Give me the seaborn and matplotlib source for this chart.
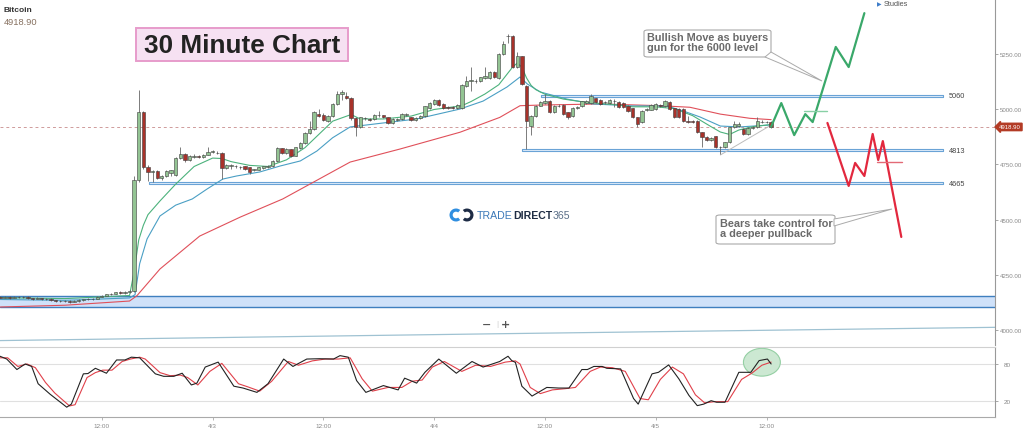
import numpy as np
import pandas as pd
import matplotlib
matplotlib.use("Agg")
import matplotlib.pyplot as plt
import seaborn as sns
from matplotlib.patches import Ellipse, FancyBboxPatch, Polygon, Wedge, Rectangle
from matplotlib.transforms import blended_transform_factory, IdentityTransform

W, H = 1024, 435

# 30 minute candles (Bitcoin)
opens = [4148, 4146, 4149, 4145, 4150, 4147, 4150, 4143, 4141, 4144,
         4139, 4141, 4134, 4131, 4129, 4132, 4128, 4131, 4136, 4138,
         4141, 4140, 4150, 4156, 4161, 4165, 4170, 4168, 4171, 4178,
         4680, 4985, 4738, 4714, 4721, 4687, 4696, 4712, 4700, 4778,
         4798, 4768, 4785, 4787, 4782, 4792, 4807, 4803, 4801, 4732,
         4744, 4741, 4738, 4741, 4736, 4725, 4725, 4732, 4736, 4741,
         4766, 4822, 4801, 4818, 4789, 4824, 4846, 4891, 4910, 4978,
         4975, 4945, 4968, 5023, 5068, 5060, 5050, 4958, 4917, 4960,
         4955, 4955, 4972, 4972, 4962, 4935, 4952, 4955, 4972, 4962,
         4952, 4958, 4967, 5003, 5023, 5042, 5023, 5010, 5008, 5005,
         5005, 5105, 5128, 5128, 5128, 5140, 5139, 5169, 5139, 5249,
         5329, 5332, 5189, 5238, 5105, 4925, 4970, 5015, 5027, 5038,
         4985, 5014, 5018, 4985, 4967, 5006, 5012, 5027, 5027, 5048,
         5042, 5030, 5027, 5036, 5033, 5027, 5015, 5003, 4962, 4940,
         4996, 4997, 5000, 5018, 5012, 5033, 5003, 5000, 5000, 4947,
         4944, 4947, 4895, 4872, 4860, 4876, 4827, 4827, 4849, 4917,
         4925, 4910, 4887, 4913, 4917, 4943, 4941, 4943]
closes = [4146, 4149, 4145, 4150, 4147, 4150, 4143, 4141, 4144, 4139,
          4141, 4134, 4131, 4129, 4132, 4128, 4131, 4136, 4138, 4141,
          4140, 4150, 4156, 4161, 4165, 4170, 4168, 4171, 4178, 4680,
          4985, 4738, 4714, 4720, 4687, 4696, 4720, 4724, 4778, 4795,
          4768, 4786, 4787, 4784, 4792, 4807, 4808, 4801, 4732, 4747,
          4745, 4740, 4737, 4729, 4717, 4726, 4736, 4741, 4741, 4766,
          4822, 4801, 4818, 4788, 4827, 4846, 4891, 4910, 4985, 4970,
          4950, 4970, 5022, 5068, 5078, 5050, 4958, 4917, 4962, 4958,
          4952, 4973, 4971, 4966, 4936, 4955, 4953, 4977, 4978, 4950,
          4960, 4968, 5012, 5027, 5042, 5018, 5005, 5005, 5004, 5018,
          5109, 5128, 5128, 5127, 5143, 5150, 5169, 5145, 5249, 5294,
          5331, 5189, 5238, 5113, 4945, 4970, 5015, 5033, 5038, 4985,
          5012, 5015, 4977, 4962, 5005, 5008, 5035, 5038, 5058, 5030,
          5023, 5031, 5042, 5037, 5008, 5008, 4992, 4962, 4932, 4992,
          4998, 5018, 5023, 5014, 5038, 5000, 4962, 4965, 4947, 4940,
          4941, 4895, 4872, 4860, 4870, 4827, 4828, 4849, 4917, 4932,
          4934, 4887, 4913, 4920, 4947, 4942, 4940, 4919]
highs = [4152, 4153, 4152, 4154, 4153, 4155, 4152, 4146, 4148, 4146,
         4145, 4143, 4137, 4134, 4136, 4134, 4135, 4139, 4142, 4145,
         4145, 4153, 4159, 4165, 4168, 4174, 4175, 4176, 4182, 4695,
         5085, 4990, 4745, 4725, 4724, 4700, 4724, 4726, 4782, 4827,
         4800, 4790, 4795, 4792, 4796, 4827, 4815, 4810, 4804, 4752,
         4752, 4746, 4744, 4744, 4738, 4730, 4739, 4744, 4745, 4769,
         4828, 4825, 4822, 4820, 4830, 4850, 4895, 4947, 4990, 5000,
         4980, 4975, 5026, 5083, 5085, 5075, 5055, 4962, 4966, 4966,
         4960, 4977, 4990, 4975, 4965, 4958, 4958, 4980, 4984, 4965,
         4964, 4972, 5015, 5030, 5046, 5045, 5027, 5014, 5012, 5022,
         5112, 5150, 5189, 5135, 5147, 5189, 5173, 5172, 5253, 5310,
         5340, 5335, 5260, 5242, 5110, 4975, 5020, 5036, 5068, 5042,
         5016, 5022, 5022, 4988, 5008, 5014, 5038, 5042, 5068, 5052,
         5045, 5038, 5046, 5044, 5036, 5030, 5018, 5006, 4965, 4996,
         5004, 5022, 5026, 5024, 5042, 5036, 5006, 5004, 5004, 4970,
         4950, 4950, 4898, 4876, 4875, 4880, 4834, 4852, 4920, 4945,
         4940, 4913, 4917, 4924, 4965, 4952, 4948, 4946]
lows = [4143, 4144, 4142, 4143, 4144, 4145, 4140, 4137, 4138, 4136,
        4136, 4130, 4127, 4125, 4126, 4124, 4125, 4128, 4133, 4135,
        4136, 4138, 4147, 4153, 4158, 4162, 4165, 4165, 4168, 4170,
        4670, 4730, 4674, 4668, 4682, 4680, 4692, 4698, 4698, 4772,
        4762, 4765, 4778, 4778, 4778, 4790, 4800, 4796, 4683, 4728,
        4730, 4734, 4730, 4726, 4705, 4718, 4722, 4729, 4732, 4738,
        4762, 4798, 4797, 4785, 4786, 4820, 4842, 4888, 4906, 4966,
        4945, 4940, 4964, 5020, 5040, 5045, 4950, 4879, 4912, 4952,
        4946, 4950, 4966, 4960, 4930, 4930, 4946, 4950, 4968, 4946,
        4948, 4955, 4963, 5000, 5020, 5015, 5002, 5000, 5000, 5002,
        5002, 5100, 5083, 5120, 5124, 5136, 5135, 5140, 5135, 5245,
        5300, 5185, 5185, 5108, 4819, 4882, 4965, 5012, 5024, 4980,
        4980, 5008, 4973, 4955, 4963, 5002, 5008, 5024, 5024, 5026,
        5018, 5025, 5024, 5010, 5004, 5004, 4988, 4958, 4917, 4936,
        4990, 4994, 4996, 5010, 5008, 4996, 4958, 4960, 4943, 4936,
        4936, 4890, 4827, 4855, 4856, 4822, 4796, 4823, 4846, 4913,
        4920, 4883, 4883, 4908, 4913, 4936, 4935, 4915]
last_price = 4918.90

# moving averages (hours since 4/2 00:00, price)
ema_fast_t = [1.0, 8.0, 15.0, 15.5, 16.0, 16.5, 17.0, 18.3, 20.0, 22.0,
              24.0, 25.0, 26.0, 28.0, 30.0, 32.0, 34.0, 35.5, 37.0, 39.0,
              40.0, 42.5, 45.5, 48.0, 51.0, 52.0, 53.5, 55.0, 56.5, 57.0,
              57.5, 58.0, 58.5, 59.0, 60.0, 62.0, 64.5, 67.5, 69.5, 72.0,
              74.0, 76.0, 78.0, 79.0, 80.0, 81.0, 82.5, 84.5]
ema_fast = [4146, 4142, 4156, 4264, 4408, 4474, 4522, 4584, 4660, 4740,
            4778, 4776, 4762, 4745, 4740, 4770, 4825, 4885, 4945, 4975,
            4955, 4955, 4968, 4998, 5015, 5034, 5068, 5110, 5190, 5208,
            5190, 5141, 5107, 5088, 5067, 5045, 5030, 5020, 5010, 5010,
            5002, 4970, 4920, 4896, 4885, 4905, 4920, 4930]
ema_mid_t = [1.0, 8.0, 15.0, 15.6, 16.1, 16.9, 18.3, 20.0, 21.8, 23.4,
             25.1, 26.6, 29.1, 31.3, 33.5, 35.3, 37.0, 38.9, 42.5, 46.1,
             50.8, 53.3, 55.9, 57.3, 58.1, 59.5, 62.4, 65.2, 69.5, 73.2,
             75.0, 76.8, 79.0, 81.1, 84.5]
ema_mid = [4138, 4134, 4145, 4160, 4300, 4412, 4516, 4565, 4593, 4638,
           4683, 4697, 4715, 4742, 4765, 4810, 4870, 4919, 4937, 4955,
           5000, 5036, 5100, 5145, 5113, 5077, 5045, 5023, 5014, 5014,
           4991, 4964, 4923, 4919, 4928]
ema_slow_t = [1.0, 8.0, 15.0, 15.8, 18.3, 22.6, 27.0, 31.6, 38.9, 44.3,
              50.8, 55.1, 57.3, 59.5, 66.0, 72.5, 75.7, 79.0, 82.2, 84.5]
ema_slow = [4104, 4112, 4131, 4155, 4276, 4425, 4511, 4593, 4760, 4819,
            4895, 4962, 5015, 5018, 5023, 5015, 5008, 4977, 4958, 4952]
long_ma_t = [0.97, 55.0, 108.75]
long_ma = [3952, 3983, 4012]

# support / resistance levels
levels = [5060, 4813, 4665]
level_start = [59.6, 57.5, 17.1]
level_end = 103.1
band_low, band_high = 4104, 4154
trend_t = [79.0, 84.4]
trend_p = [4792, 4925]

# projected paths
bull_t = [84.5, 85.6, 87.0, 88.2, 89.0, 91.5, 92.9, 94.6]
bull_p = [4920, 5027, 4882, 4977, 4941, 5281, 5190, 5434]
bull_mark_t, bull_mark_p = [88.1, 90.6], [4991, 4991]
bear_t = [90.6, 92.9, 93.6, 94.6, 95.5, 96.1, 96.6, 98.6]
bear_p = [4937, 4652, 4756, 4697, 4887, 4769, 4855, 4421]
bear_mark_t, bear_mark_p = [96.0, 98.7], [4760, 4760]

# stochastic
stoch_k_t = [0.97, 1.7, 2.8, 3.7, 4.4, 5.1, 6.4, 8.2, 8.7, 10.0,
             10.5, 11.3, 12.5, 13.6, 14.5, 15.2, 16.1, 17.8, 18.7, 19.8,
             20.7, 21.7, 22.3, 23.2, 24.6, 26.3, 27.3, 28.8, 30.0, 31.7,
             32.7, 34.2, 35.6, 37.1, 37.8, 38.7, 39.6, 40.6, 42.5, 44.1,
             44.8, 46.1, 47.0, 48.5, 50.4, 52.1, 53.3, 55.1, 56.0, 56.4,
             56.8, 57.5, 58.6, 60.2, 61.5, 62.6, 64.0, 64.6, 65.3, 66.2,
             66.7, 68.2, 69.6, 70.1, 71.6, 72.3, 73.4, 74.5, 75.6, 76.5,
             77.2, 78.0, 78.6, 79.5, 81.0, 82.3, 83.2, 84.1, 84.5]
stoch_k = [92.5, 88, 71, 80, 76, 48, 31, 10, 15, 64,
           64.5, 73, 65, 86.5, 86.5, 91, 90, 64, 60, 60,
           65, 46, 49, 75, 83, 44, 41, 34, 48, 88,
           76, 88, 88.5, 88, 93.5, 91, 53, 34, 45, 38,
           57, 49, 66.5, 88, 65, 84, 75, 84, 92.5, 85.5,
           82.5, 44, 28, 42, 41, 41, 71, 71, 76, 76,
           73, 72, 24, 15, 64, 66.5, 78.5, 56, 29, 12.5,
           15, 20.5, 18, 18, 66.5, 66.5, 85.5, 88, 80]
stoch_d_t = [0.97, 1.8, 2.9, 3.9, 4.8, 5.9, 6.9, 8.5, 9.1, 10.4,
             11.3, 12.1, 13.1, 14.2, 15.1, 16.1, 16.7, 18.3, 19.4, 20.5,
             21.3, 22.4, 23.7, 25.0, 26.8, 27.8, 29.1, 30.4, 32.2, 33.3,
             34.8, 36.2, 37.6, 38.9, 40.2, 41.3, 43.0, 44.5, 45.6, 46.7,
             47.8, 49.1, 51.0, 52.5, 54.1, 55.7, 56.8, 57.3, 58.4, 59.5,
             60.8, 62.2, 63.3, 64.9, 66.0, 67.3, 68.7, 70.3, 71.2, 72.5,
             73.8, 75.0, 76.3, 77.3, 78.4, 79.8, 81.3, 82.4, 83.5, 84.5]
stoch_d = [90, 90, 76, 80, 74, 50, 33, 12, 14, 58,
           66, 70, 70, 84, 88, 91, 88, 66, 61, 62,
           58, 46, 68, 81, 48, 43, 36, 52, 84, 78,
           85, 88, 88, 90, 56, 36, 42, 42, 52, 54,
           75, 84, 68, 78, 76, 83, 85, 80, 42, 32,
           38, 40, 42, 68, 75, 74, 68, 24, 22, 55,
           75, 64, 30, 17, 19, 19, 55, 65, 78, 83]

tick_hours = [12, 24, 36, 48, 60, 72, 84]
tick_labels = ["12:00", "4/3", "12:00", "4/4", "12:00", "4/5", "12:00"]

# ---------------------------------------------------------------
candle_time = pd.date_range("2018-04-02 01:00", periods=len(opens), freq="30min")
df = pd.DataFrame({"time": candle_time, "open": opens, "close": closes,
                   "high": highs, "low": lows})
df["t"] = (df["time"] - pd.Timestamp("2018-04-02")) / pd.Timedelta(hours=1)
df["up"] = df["close"] >= df["open"]

sns.set_theme(style="white")
plt.rcParams["font.family"] = ["Liberation Sans", "DejaVu Sans"]

fig = plt.figure(figsize=(W / 100, H / 100), dpi=100)
fig.patch.set_facecolor("white")
ax = fig.add_axes([0, 1 - 346 / H, 995 / W, 346 / H])
ax2 = fig.add_axes([0, 1 - 418 / H, 995 / W, 70 / H])
xlim = (0.97, 108.75)


def fx(x):
    return x / W


def fy(y):
    return 1 - y / H


# ---- price panel ----
ax.axhspan(band_low, band_high, facecolor="#cfe1f9", edgecolor="none", zorder=1)
ax.axhline(band_low, color="#3f7fbf", lw=1.0, zorder=1.5)
ax.axhline(band_high, color="#3f7fbf", lw=1.0, zorder=1.5)

for lvl, t0 in zip(levels, level_start):
    ax.fill_between([t0, level_end], lvl - 5, lvl + 5, facecolor="#e2eefa",
                    edgecolor="#6aa3d6", lw=0.8, zorder=2)
    ax.text(103.7, lvl, str(lvl), fontsize=5.3, color="#444", va="center", ha="left")

ax.axhline(last_price, color="#cf9b9b", lw=0.7, ls=(0, (3, 3)), zorder=1.8)

sns.lineplot(x=long_ma_t, y=long_ma, ax=ax, color="#9fc2d2", lw=0.9, zorder=2)
sns.lineplot(x=ema_slow_t, y=ema_slow, ax=ax, color="#e0505a", lw=0.8, zorder=3)
sns.lineplot(x=ema_mid_t, y=ema_mid, ax=ax, color="#4a9fc4", lw=0.8, zorder=3)
sns.lineplot(x=ema_fast_t, y=ema_fast, ax=ax, color="#4cb27c", lw=0.8, zorder=3)
sns.lineplot(x=trend_t, y=trend_p, ax=ax, color="#bcbcbc", lw=0.7, zorder=3)

ax.vlines(df["t"], df["low"], df["high"], color="#666", lw=0.6, zorder=4)
body_low = np.minimum(df["open"], df["close"])
body_h = np.maximum(np.abs(df["close"] - df["open"]), 1.5)
ax.bar(df["t"], body_h, bottom=body_low, width=0.36,
       color=np.where(df["up"], "#93c493", "#a8322a"),
       edgecolor="#3c3c3c", linewidth=0.4, zorder=5)

sns.lineplot(x=bull_t, y=bull_p, ax=ax, color="#3aa86a", lw=1.6, zorder=6)
sns.lineplot(x=bull_mark_t, y=bull_mark_p, ax=ax, color="#88d0a5", lw=1.0, zorder=6)
sns.lineplot(x=bear_t, y=bear_p, ax=ax, color="#e2283e", lw=1.6, zorder=6)
sns.lineplot(x=bear_mark_t, y=bear_mark_p, ax=ax, color="#e36a76", lw=1.0, zorder=6)

ax.set_xlim(*xlim)
ax.set_ylim(3932, 5498)
ax.set_xticks([])
price_ticks = [4000, 4250, 4500, 4750, 5000, 5250]
ax.set_yticks(price_ticks)
ax.set_yticklabels([f"{v:.2f}" for v in price_ticks])
ax.tick_params(axis="y", left=False, labelleft=False, right=True, labelright=True,
               labelsize=4.4, labelcolor="#888", color="#999", length=2, width=0.6, pad=1.5)
ax.set_xlabel("")
ax.set_ylabel("")
for side in ["left", "top", "bottom"]:
    ax.spines[side].set_visible(False)
ax.spines["right"].set_color("#999")
ax.spines["right"].set_linewidth(0.8)

tag_tr = blended_transform_factory(ax.transAxes, ax.transData)
ax.text(1.004, last_price, f"{last_price:.2f}", transform=tag_tr, fontsize=4.3,
        color="white", va="center", ha="left", clip_on=False, zorder=10,
        bbox=dict(boxstyle="larrow,pad=0.2", fc="#b33b25", ec="#b33b25"))

# ---- stochastic panel ----
ax2.axhline(80, color="#e0e0e0", lw=0.8, zorder=0)
ax2.axhline(20, color="#e0e0e0", lw=0.8, zorder=0)
ax2.add_patch(Ellipse((83.5, 82.8), 4.0, 45, facecolor="#cce8d2", edgecolor="#94cfa3",
                      lw=0.8, zorder=1))
sns.lineplot(x=stoch_d_t, y=stoch_d, ax=ax2, color="#e0404a", lw=0.8, zorder=2)
sns.lineplot(x=stoch_k_t, y=stoch_k, ax=ax2, color="#222", lw=0.8, zorder=3)
ax2.set_xlim(*xlim)
ax2.set_ylim(-5.9, 107.5)
ax2.set_yticks([20, 80])
ax2.set_yticklabels(["20", "80"])
ax2.set_xticks(tick_hours)
ax2.set_xticklabels(tick_labels)
ax2.tick_params(axis="y", left=False, labelleft=False, right=True, labelright=True,
                labelsize=4.6, labelcolor="#888", color="#999", length=2, width=0.6, pad=4)
ax2.tick_params(axis="x", bottom=True, labelsize=4.6, labelcolor="#888", color="#aaa",
                length=2, width=0.6, pad=2.5)
ax2.set_xlabel("")
ax2.set_ylabel("")
ax2.spines["left"].set_visible(False)
ax2.spines["top"].set_color("#d0d0d0")
ax2.spines["right"].set_color("#999")
ax2.spines["bottom"].set_color("#aaa")
for side in ["top", "right", "bottom"]:
    ax2.spines[side].set_linewidth(0.8)

# ---- texts and decorations ----
fig.text(fx(4), fy(10), "Bitcoin", fontsize=6, weight="bold", color="#333", va="center")
fig.text(fx(4), fy(22.5), "4918.90", fontsize=6.7, color="#86705f", va="center")
fig.text(fx(877), fy(5), "\u25b6", fontsize=4.2, color="#3d7cc9", va="center",
         family="DejaVu Sans")
fig.text(fx(884), fy(5), "Studies", fontsize=5.3, color="#555", va="center")

fig.add_artist(Rectangle((fx(136), fy(62)), fx(212), 33 / H, transform=fig.transFigure,
                         facecolor="#f6e1f2", edgecolor="#e79ccb", lw=1.4))
fig.text(fx(242), fy(46), "30 Minute Chart", fontsize=18.8, weight="bold", color="#222",
         ha="center", va="center")

fig.add_artist(FancyBboxPatch((fx(644), fy(58)), fx(127), 27 / H,
                              boxstyle="round,pad=0,rounding_size=0.004",
                              transform=fig.transFigure, fc="white", ec="#aaaaaa", lw=0.8))
fig.add_artist(Polygon([(fx(765), fy(58)), (fx(771), fy(53)), (fx(822), fy(82))],
                       closed=True, transform=fig.transFigure, fc="white", ec="#aaaaaa",
                       lw=0.7))
fig.text(fx(647), fy(33), "Bullish Move as buyers\ngun for the 6000 level", fontsize=7.8,
         weight="bold", color="#6a6a6a", va="top", ha="left", linespacing=1.0)

fig.add_artist(FancyBboxPatch((fx(716), fy(245)), fx(119), 29 / H,
                              boxstyle="round,pad=0,rounding_size=0.004",
                              transform=fig.transFigure, fc="white", ec="#aaaaaa", lw=0.8))
fig.add_artist(Polygon([(fx(834), fy(220)), (fx(834), fy(227)), (fx(892), fy(210))],
                       closed=True, transform=fig.transFigure, fc="white", ec="#aaaaaa",
                       lw=0.7))
fig.text(fx(720), fy(219), "Bears take control for\na deeper pullback", fontsize=7.8,
         weight="bold", color="#6a6a6a", va="top", ha="left", linespacing=1.0)

# logo: icon plus three chained words
px = IdentityTransform()
fig.add_artist(Wedge((456, H - 216), 6.5, 50, 310, width=3.2, transform=px,
                     fc="#2f8ee0", ec="none"))
fig.add_artist(Wedge((467, H - 216), 6.5, 230, 130, width=3.2, transform=px,
                     fc="#1d2b45", ec="none"))
renderer = fig.canvas.get_renderer()
x_next = 477
for word, wt, col in [("TRADE", "normal", "#3b78b8"), ("DIRECT", "bold", "#1f2d44"),
                      ("365", "normal", "#5a6f88")]:
    txt = fig.text(fx(x_next), fy(216), word, fontsize=7.6, weight=wt, color=col,
                   va="center", ha="left")
    x_next = txt.get_window_extent(renderer).x1 + 0.5

# zoom buttons
fig.text(fx(487), fy(325), "\u2212", fontsize=8, weight="bold", color="#555",
         ha="center", va="center", family="DejaVu Sans")
fig.text(fx(497), fy(325), "|", fontsize=6, color="#ccc", ha="center", va="center")
fig.text(fx(506), fy(325), "+", fontsize=8, weight="bold", color="#555",
         ha="center", va="center", family="DejaVu Sans")

fig.savefig("out.png", dpi=100, facecolor="white")
